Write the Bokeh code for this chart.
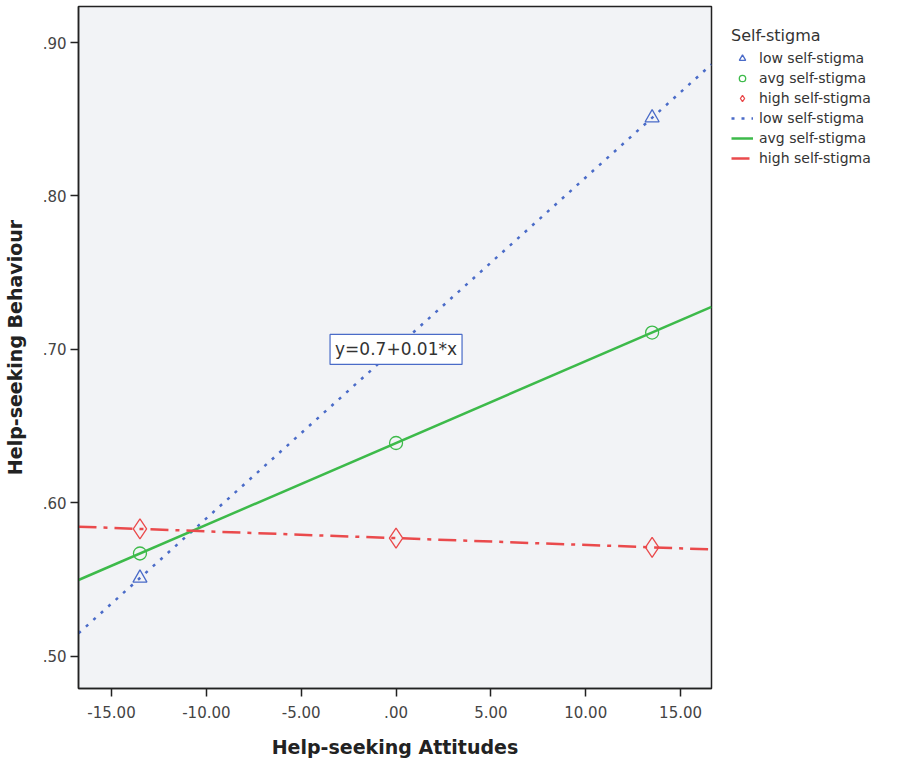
import numpy as np
from bokeh.plotting import figure
from bokeh.models import Range1d, FixedTicker, CustomJSTickFormatter, Legend, LegendItem, Label
from bokeh.embed import file_html
from bokeh.resources import INLINE

# ---- data ----
attitudes = [-13.5, 0.0, 13.5]
low_vals = [0.551, 0.701, 0.851]
avg_vals = [0.567, 0.639, 0.711]
high_vals = [0.583, 0.577, 0.571]
group_labels = ["low self-stigma", "avg self-stigma", "high self-stigma"]
x_ticks = [-15, -10, -5, 0, 5, 10, 15]
y_ticks = [0.5, 0.6, 0.7, 0.8, 0.9]
x_lim = (-16.74, 16.63)
y_lim = (0.479, 0.9235)
annotation_text = "y=0.7+0.01*x"

BLUE = "#4a6bc8"
GREEN = "#3dba4a"
RED = "#ea4a4c"
FONT = "DejaVu Sans"

p = figure(frame_width=633, frame_height=682, output_backend="svg", toolbar_location=None,
           x_range=Range1d(*x_lim), y_range=Range1d(*y_lim),
           min_border_left=78, min_border_right=0, min_border_top=6, min_border_bottom=69)
p.border_fill_color = "white"
p.outline_line_color = "#222222"
p.outline_line_width = 1.5
p.xgrid.visible = False
p.ygrid.visible = False
p.background_fill_color = "#f2f3f6"

fmt = CustomJSTickFormatter(code="""
var s = tick.toFixed(2);
return s.replace(/^(-?)0\\./, '$1.');
""")
for ax, ticks in ((p.xaxis, x_ticks), (p.yaxis, y_ticks)):
    ax.ticker = FixedTicker(ticks=ticks)
    ax.formatter = fmt
    ax.minor_tick_line_color = None
    ax.major_tick_out = 8
    ax.major_tick_in = 0
    ax.major_tick_line_color = "#222222"
    ax.major_tick_line_width = 1.5
    ax.axis_line_color = "#222222"
    ax.axis_line_width = 1.5
    ax.major_label_text_font = FONT
    ax.major_label_text_font_size = "15px"
    ax.major_label_text_color = "#444444"
    ax.axis_label_text_font = FONT
    ax.axis_label_text_font_size = "19px"
    ax.axis_label_text_font_style = "bold"
    ax.axis_label_text_color = "#222222"
p.xaxis.axis_label = "Help-seeking Attitudes"
p.yaxis.axis_label = "Help-seeking Behaviour"
p.xaxis.major_label_standoff = 9
p.xaxis.axis_label_standoff = 15
p.yaxis.major_label_standoff = 4
p.yaxis.axis_label_standoff = 14

xs_line = np.array(x_lim)
series = [
    (low_vals, BLUE, "triangle", 14, "dotted"),
    (avg_vals, GREEN, "circle", 13, "solid"),
    (high_vals, RED, "diamond", 20, "dashdot"),
]
dash_map = {"dotted": "3 7", "solid": "solid", "dashdot": "18 7 4 7"}

marker_items = []
line_items = []
for (vals, color, marker, size, dash), label in zip(series, group_labels):
    slope, icpt = np.polyfit(attitudes, vals, 1)
    ln = p.line(xs_line, icpt + slope * xs_line, line_color=color, line_width=2.5,
                line_dash=dash_map[dash])
    line_items.append(LegendItem(label=label, renderers=[ln]))
for (vals, color, marker, size, dash), label in zip(series, group_labels):
    sc = p.scatter(attitudes, vals, marker=marker, size=size, line_color=color,
                   fill_color=None, line_width=1.3)
    marker_items.append(LegendItem(label=label, renderers=[sc]))

lab = Label(x=0, y=0.70, text=annotation_text, text_align="center", text_baseline="middle",
            background_fill_color="white", border_line_color=BLUE, border_line_width=1.2,
            padding=5, text_font=FONT, text_font_size="17px", text_color="#333333")
p.add_layout(lab)

legend = Legend(items=marker_items + line_items, location="top_left")
legend.title = "Self-stigma"
legend.title_text_font = FONT
legend.title_text_font_size = "16px"
legend.title_text_font_style = "normal"
legend.title_text_color = "#333333"
legend.title_standoff = 5
legend.label_text_font = FONT
legend.label_text_font_size = "14px"
legend.label_text_color = "#333333"
legend.label_height = 16
legend.glyph_height = 16
legend.glyph_width = 22
legend.spacing = 4
legend.label_standoff = 6
legend.padding = 4
legend.margin = 20
legend.border_line_color = None
legend.background_fill_alpha = 0
p.add_layout(legend, "right")

open("out.html", "w").write(file_html(p, INLINE))
